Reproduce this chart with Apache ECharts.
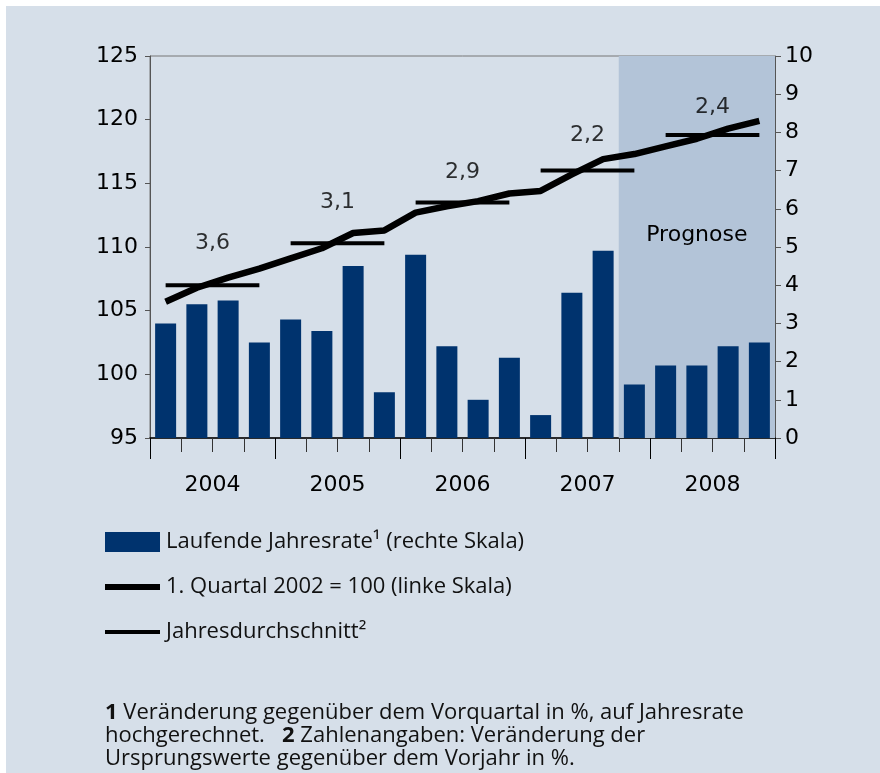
<!DOCTYPE html>
<html>
<head>
<meta charset="utf-8">
<script src="https://cdn.jsdelivr.net/npm/echarts@6/dist/echarts.min.js"></script>
<style>
  html, body { margin: 0; padding: 0; background: #fff; }
  #chart { position: absolute; left: 6px; top: 6px; width: 874px; height: 767px; }
</style>
</head>
<body>
<div id="chart"></div>
<script>
// Quartale 2004 - 2008
var quarters = [];
var years = ['2004', '2005', '2006', '2007', '2008'];
years.forEach(function (y) {
    for (var q = 1; q <= 4; q++) quarters.push(y + ' Q' + q);
});

// Laufende Jahresrate (rechte Skala)
var rate = [3.0, 3.5, 3.6, 2.5, 3.1, 2.8, 4.5, 1.2, 4.8, 2.4,
            1.0, 2.1, 0.6, 3.8, 4.9, 1.4, 1.9, 1.9, 2.4, 2.5];
// 1. Quartal 2002 = 100 (linke Skala)
var level = [105.7, 106.8, 107.6, 108.3, 109.1, 109.9, 111.1, 111.3, 112.7, 113.2,
             113.6, 114.2, 114.4, 115.7, 116.9, 117.3, 117.9, 118.5, 119.3, 119.9];
// Jahresdurchschnitt (Niveau) und Veraenderung zum Vorjahr
var yearAvg = [107.0, 110.3, 113.5, 116.0, 118.8];
var yearAvgText = ['3,6', '3,1', '2,9', '2,2', '2,4'];
var yearAvgTextPos = [110.3, 113.5, 115.9, 118.8, 121.0];

var leftTicks = { min: 95, max: 125, interval: 5 };
var rightTicks = { min: 0, max: 10, interval: 1 };
var forecastFrom = 15; // ab 2007 Q4

var txt = '#000';
var chartFont = 'DejaVu Sans';
var textFont = 'Open Sans';

var nameBar = 'Laufende Jahresrate\u00b9 (rechte Skala)';
var nameLine = '1. Quartal 2002 = 100 (linke Skala)';
var nameAvg = 'Jahresdurchschnitt\u00b2';

var avgSeries = yearAvg.map(function (v, i) {
    var d = quarters.map(function (q, k) {
        return Math.floor(k / 4) === i ? v : null;
    });
    return {
        name: nameAvg, type: 'line', xAxisIndex: 0, yAxisIndex: 0,
        data: d, symbol: 'none', connectNulls: false, z: 4,
        lineStyle: { color: '#000', width: 4 }, itemStyle: { color: '#000' },
        silent: true
    };
});

var myChart = echarts.init(document.getElementById('chart'));
var option = {
    backgroundColor: '#d6dfe9',
    animation: false,
    grid: {
        left: 144, right: 105, top: 50, bottom: 335,
        show: true, borderColor: '#777', borderWidth: 1, backgroundColor: 'transparent'
    },
    legend: {
        orient: 'vertical', left: 91, top: 520,
        itemWidth: 55, itemHeight: 20, itemGap: 23,
        data: [
            { name: nameBar, icon: 'rect' },
            { name: nameLine, itemStyle: { opacity: 0 }, lineStyle: { width: 6, color: '#000' } },
            { name: nameAvg, itemStyle: { opacity: 0 }, lineStyle: { width: 4, color: '#000' } }
        ],
        textStyle: { fontFamily: textFont, fontSize: 22, color: '#111', padding: [0, 0, 0, 1] },
        selectedMode: false
    },
    xAxis: [
        {
            type: 'category', data: quarters, boundaryGap: true, position: 'bottom',
            axisLine: { lineStyle: { color: '#000', width: 1.5 } },
            axisTick: { show: true, interval: 0, length: 14, lineStyle: { color: '#333' } },
            axisLabel: { show: false }, splitLine: { show: false }
        },
        {
            type: 'category', data: years, boundaryGap: true, position: 'bottom',
            axisLine: { show: false },
            axisTick: { show: true, interval: 0, length: 21, lineStyle: { color: '#000' } },
            axisLabel: { margin: 36, fontFamily: chartFont, fontSize: 22, color: txt },
            splitLine: { show: false }
        },
        {
            type: 'value', min: 0, max: quarters.length, show: false
        }
    ],
    yAxis: [
        {
            type: 'value', position: 'left',
            min: leftTicks.min, max: leftTicks.max, interval: leftTicks.interval,
            axisLine: { show: true, lineStyle: { color: '#555' } },
            axisTick: { show: true, length: 5, lineStyle: { color: '#555' } },
            axisLabel: { margin: 12, fontFamily: chartFont, fontSize: 22, color: txt },
            splitLine: { show: false }
        },
        {
            type: 'value', position: 'right',
            min: rightTicks.min, max: rightTicks.max, interval: rightTicks.interval,
            axisLine: { show: true, lineStyle: { color: '#555' } },
            axisTick: { show: true, length: 6, lineStyle: { color: '#555' } },
            axisLabel: { margin: 10, fontFamily: chartFont, fontSize: 22, color: txt },
            splitLine: { show: false }
        }
    ],
    series: [
        {
            name: 'prognose', type: 'line', xAxisIndex: 2, yAxisIndex: 0, data: [],
            z: 0, silent: true,
            markArea: {
                silent: true,
                itemStyle: { color: '#b3c4d8' },
                label: {
                    show: true, position: 'inside', offset: [0, -12],
                    formatter: 'Prognose', fontFamily: chartFont, fontSize: 22, color: txt
                },
                data: [[{ xAxis: forecastFrom }, { xAxis: quarters.length }]]
            }
        },
        {
            name: nameBar, type: 'bar', xAxisIndex: 0, yAxisIndex: 1,
            data: rate, barWidth: 21, z: 2,
            itemStyle: { color: '#00336e' }
        },
        {
            name: nameLine, type: 'line', xAxisIndex: 0, yAxisIndex: 0,
            data: level, symbol: 'none', z: 5,
            lineStyle: { color: '#000', width: 6.5 }, itemStyle: { color: '#000' }
        }
    ].concat(avgSeries).concat([
        {
            name: 'labels', type: 'scatter', xAxisIndex: 1, yAxisIndex: 0,
            symbolSize: 0, z: 6, silent: true,
            data: years.map(function (y, i) { return [y, yearAvgTextPos[i]]; }),
            label: {
                show: true, position: 'inside',
                formatter: function (p) { return yearAvgText[p.dataIndex]; },
                fontFamily: chartFont, fontSize: 22, color: txt
            }
        }
    ]),
    graphic: [
        {
            type: 'text', left: 99, top: 695,
            style: {
                text: '{b|1} Veränderung gegenüber dem Vorquartal in %, auf Jahresrate\n' +
                      'hochgerechnet.   {b|2} Zahlenangaben: Veränderung der\n' +
                      'Ursprungswerte gegenüber dem Vorjahr in %.',
                fontFamily: textFont, fontSize: 22, lineHeight: 23, fill: '#111',
                rich: {
                    b: { fontFamily: textFont, fontSize: 22, fontWeight: 'bold', lineHeight: 23, fill: '#111' }
                }
            }
        }
    ]
};
myChart.setOption(option);
</script>
</body>
</html>
